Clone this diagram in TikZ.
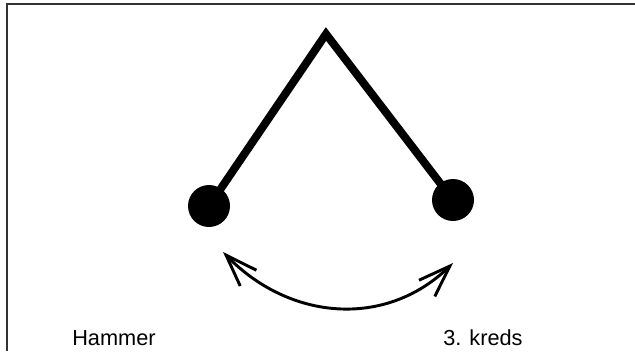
\documentclass[tikz,border=0pt]{standalone}
\usepackage{fontspec}
\setmainfont{Liberation Sans}
\usetikzlibrary{arrows.meta}

\begin{document}
\begin{tikzpicture}[x=0.75pt,y=-0.75pt,line cap=butt,line join=miter,
  ball/.style={circle,fill=black,inner sep=0pt,minimum size=31.5pt},
  rod/.style={line width=6pt},
  swing/.style={line width=2.2pt,{Straight Barb[length=24pt,width=17pt]}-{Straight Barb[length=24pt,width=17pt]}},
  lbl/.style={font=\fontsize{16.3}{19}\selectfont,anchor=base west,inner sep=0pt}]
\useasboundingbox (0,0) rectangle (635,351);
% frame
\draw[black!80,line width=1.2pt] (7,351) -- (7,4) -- (635,4);
% hammer
\coordinate (top) at (326,34);
\node[ball] (lball) at (209,206) {};
\node[ball] (rball) at (453,200) {};
\draw[rod] (lball.center) -- (top) -- (rball.center);
% swing
\coordinate (sl) at (223,252);
\coordinate (sr) at (453,263);
\draw[swing] (sl) .. controls (289,320) and (385,329) .. (sr);
% labels
\node[lbl] (hammer) at (72,345) {Hammer};
\node[lbl] (kreds) at (443,345) {3. kreds};
\end{tikzpicture}
\end{document}
